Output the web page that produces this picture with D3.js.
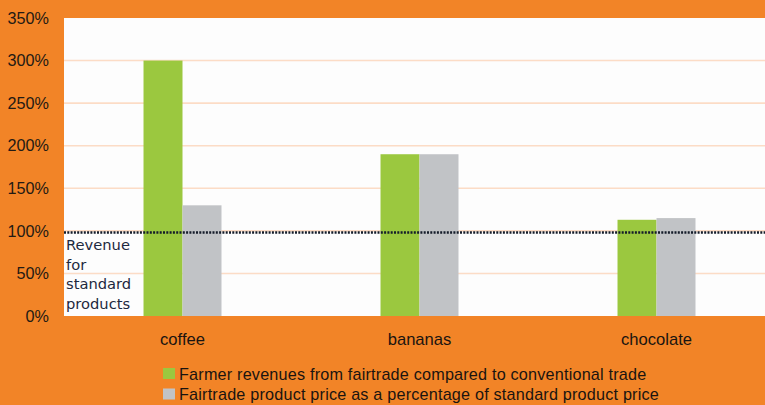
<!DOCTYPE html>
<html><head><meta charset="utf-8">
<script src="https://cdn.jsdelivr.net/npm/d3@7"></script>
<style>html,body{margin:0;padding:0;background:#f28427;}svg{display:block;}</style>
</head><body>
<svg id="chart" width="765" height="405"></svg>
<script>
const categories = ["coffee", "bananas", "chocolate"];
const seriesNames = [
  "Farmer revenues from fairtrade compared to conventional trade",
  "Fairtrade product price as a percentage of standard product price"
];
const farmerRevenues = [300, 190, 113];
const productPrice = [130, 190, 115];
const yTicks = [0, 50, 100, 150, 200, 250, 300, 350];
const referenceValue = 98;
const referenceLabel = ["Revenue", "for", "standard", "products"];

(function () {
const colors = ["#9bc83f", "#c1c3c6"];
const series = [farmerRevenues, productPrice];
const FONT = "Liberation Sans, Arial, sans-serif";

const svg = d3.select("#chart");
const W = 765, H = 405;
svg.append("rect").attr("width", W).attr("height", H).attr("fill", "#f28427");

const pl = 64, pr = 775, pt = 18, pb = 316;
const x = d3.scaleBand().domain(categories).range([pl, pr]).paddingInner(0.671).paddingOuter(0.3355);
const xs = d3.scaleBand().domain([0, 1]).range([0, x.bandwidth()]);
const y = d3.scaleLinear().domain([0, 350]).range([pb, pt]);

svg.append("rect").attr("x", pl).attr("y", pt).attr("width", W - pl).attr("height", pb - pt).attr("fill", "#fdfdfd");

svg.append("g").selectAll("line").data(yTicks.filter(d => d > 0 && d < 350)).join("line")
  .attr("x1", pl).attr("x2", W).attr("y1", d => y(d)).attr("y2", d => y(d))
  .attr("stroke", "#fcdcc6").attr("stroke-width", 1.6);

const yAxis = d3.axisLeft(y).tickValues(yTicks).tickFormat(d => d + "%").tickSize(0).tickPadding(15);
const gy = svg.append("g").attr("transform", `translate(${pl},0)`).call(yAxis);
gy.select(".domain").remove();
gy.selectAll("text").attr("font-family", FONT).attr("font-size", 16.2).attr("fill", "#231a14");

series.forEach((vals, si) => {
  svg.append("g").selectAll("rect").data(categories).join("rect")
    .attr("x", d => x(d) + xs(si))
    .attr("width", xs.bandwidth())
    .attr("y", (d, i) => y(vals[i]))
    .attr("height", (d, i) => y(0) - y(vals[i]))
    .attr("fill", colors[si]);
});

svg.append("line").attr("x1", pl).attr("x2", W).attr("y1", y(referenceValue)).attr("y2", y(referenceValue))
  .attr("stroke", "#141c2a").attr("stroke-width", 2.6).attr("stroke-dasharray", "2,1.3");

const refText = svg.append("text").attr("font-family", "DejaVu Sans, Verdana, sans-serif").attr("font-size", 14.7).attr("fill", "#1d2940");
referenceLabel.forEach((t, i) => {
  refText.append("tspan").attr("x", 66).attr("y", 250 + i * 19.5).text(t);
});

const xAxis = d3.axisBottom(x).tickSize(0).tickPadding(0);
const gx = svg.append("g").attr("transform", `translate(0,${pb})`).call(xAxis);
gx.select(".domain").remove();
gx.selectAll("text").attr("y", 29).attr("dy", 0).attr("font-family", FONT).attr("font-size", 16.6).attr("fill", "#1a1410");

const lg = svg.append("g");
seriesNames.forEach((name, i) => {
  const yy = 368 + i * 20.5;
  lg.append("rect").attr("x", 163).attr("y", yy).attr("width", 12).attr("height", 11).attr("fill", colors[i]);
  lg.append("text").attr("x", 179).attr("y", yy + 11.5).attr("font-family", FONT)
    .attr("font-size", 16.2).attr("letter-spacing", 0.2).attr("fill", "#1a1410").text(name);
});
})();
</script>
</body></html>
